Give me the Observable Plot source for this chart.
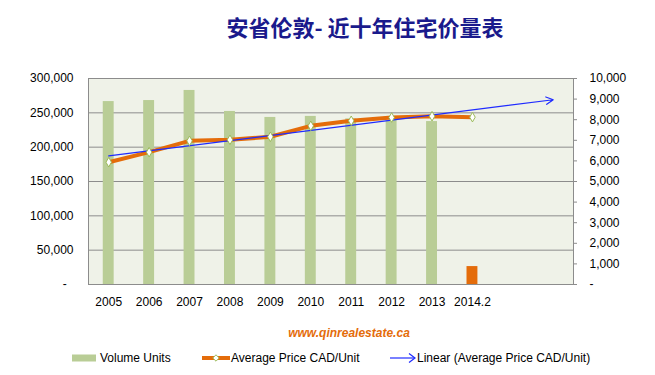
<!DOCTYPE html>
<html>
<head>
<meta charset="utf-8">
<script src="https://cdn.jsdelivr.net/npm/d3@7"></script>
<script src="https://cdn.jsdelivr.net/npm/@observablehq/plot@0.6"></script>
<style>
  html, body { margin: 0; padding: 0; background: #fff; }
  #wrap { position: relative; width: 655px; height: 375px; overflow: hidden; font-family: "Liberation Sans", Arial, sans-serif; }
  #chart { position: absolute; left: 0; top: 0; }
  .title { position: absolute; top: 11px; left: 365px; transform: translateX(-50%); white-space: nowrap;
           font-family: "Noto Sans CJK SC", sans-serif; font-weight: bold; font-size: 22px; color: #1a1a8c; line-height: 30px; }
  .site { position: absolute; top: 325px; left: 349px; transform: translateX(-50%); white-space: nowrap;
          font-family: "Liberation Sans", Arial, sans-serif; font-weight: bold; font-style: italic; font-size: 12px; color: #e46c0a; line-height: 16px; }
  .leg { position: absolute; top: 350px; height: 16px; display: flex; align-items: center; white-space: nowrap;
         font-size: 12px; color: #000; }
  .leg svg { display: block; }
</style>
</head>
<body>
<div id="wrap">
  <div id="chart"></div>
  <div class="title">安省伦敦- 近十年住宅价量表</div>
  <div class="site">www.qinrealestate.ca</div>
  <div class="leg" style="left:72px;"><svg width="25" height="8" style="margin-right:3px"><rect x="0" y="0.5" width="24" height="7" fill="#b9cd96"/></svg>Volume Units</div>
  <div class="leg" style="left:202px;"><svg width="29" height="10" style="margin-right:0"><line x1="0" y1="5" x2="28" y2="5" stroke="#e46c0a" stroke-width="4"/><path d="M14,1.8L17.2,5L14,8.2L10.8,5Z" fill="#fff" stroke="#9bbb59" stroke-width="1"/></svg>Average Price CAD/Unit</div>
  <div class="leg" style="left:390px;"><svg width="26" height="12" style="margin-right:1px"><line x1="0" y1="6" x2="25" y2="6" stroke="#1f2bff" stroke-width="1.2"/><path d="M19,1.5L25,6L19,10.5" fill="none" stroke="#1f2bff" stroke-width="1.2"/></svg>Linear (Average Price CAD/Unit)</div>
</div>
<script>
// ---- data ----
const years = ["2005", "2006", "2007", "2008", "2009", "2010", "2011", "2012", "2013", "2014.2"];
const volumeUnits = [8880, 8930, 9420, 8400, 8110, 8160, 8040, 7960, 7910, 870];
const avgPrice = [178100, 192700, 209200, 210700, 215100, 231100, 238400, 243200, 245100, 243700];
const leftTicks = [0, 50000, 100000, 150000, 200000, 250000, 300000];
const rightTicks = [0, 1000, 2000, 3000, 4000, 5000, 6000, 7000, 8000, 9000, 10000];
const forecastPeriods = 2;

// ---- derived ----
const leftMax = leftTicks[leftTicks.length - 1];
const rightMax = rightTicks[rightTicks.length - 1];
const ratio = leftMax / rightMax; // right-axis value -> left-axis scale
const n = years.length;
const slots = n + forecastPeriods;

const rows = years.map((year, i) => ({i, year, volume: volumeUnits[i], price: avgPrice[i]}));

// least squares linear trend on price
const mx = d3.mean(rows, d => d.i);
const my = d3.mean(rows, d => d.price);
const slope = d3.sum(rows, d => (d.i - mx) * (d.price - my)) / d3.sum(rows, d => (d.i - mx) ** 2);
const intercept = my - slope * mx;
const trend = [{x1: 0, y1: intercept, x2: slots - 1, y2: intercept + slope * (slots - 1)}];

const fmt = d3.format(",");
const green = "#b9cd96", orange = "#e46c0a", blue = "#1f2bff", gridColor = "#8c8c8c";
const halfBar = 0.135;

const chart = Plot.plot({
  width: 655,
  height: 375,
  marginLeft: 88,
  marginRight: 82,
  marginTop: 78,
  marginBottom: 91,
  style: {fontFamily: "Liberation Sans, Arial, sans-serif", fontSize: "12px", color: "#000", background: "transparent"},
  x: {domain: [-0.5, slots - 0.5], axis: null},
  y: {domain: [0, leftMax], axis: null},
  marks: [
    Plot.frame({fill: "#eff2e8", stroke: "none"}),
    Plot.ruleY(leftTicks, {stroke: gridColor, strokeWidth: 1}),
    Plot.frame({stroke: gridColor, strokeWidth: 1}),
    Plot.rectY(rows, {
      x1: d => d.i - halfBar,
      x2: d => d.i + halfBar,
      y1: 0,
      y2: d => d.volume * ratio,
      fill: d => d.i === n - 1 ? orange : green
    }),
    Plot.line(rows, {x: "i", y: "price", stroke: orange, strokeWidth: 4, strokeLinejoin: "round"}),
    Plot.arrow(trend, {x1: "x1", y1: "y1", x2: "x2", y2: "y2", stroke: blue, strokeWidth: 1.2, headLength: 10, headAngle: 55}),
    Plot.dot(rows, {x: "i", y: "price", symbol: "diamond", r: 2.9, fill: "#fff", stroke: "#9bbb59", strokeWidth: 1}),
    Plot.axisX(rows.map(d => d.i), {tickFormat: i => years[i], tickSize: 0, tickPadding: 13, fill: "#000", fontSize: 12}),
    Plot.axisY(leftTicks, {anchor: "left", tickSize: 0, tickPadding: 15, label: null, fill: "#000", fontSize: 12,
      tickFormat: v => v === 0 ? "-\u00a0\u00a0" : fmt(v)}),
    Plot.axisY(rightTicks.map(v => v * ratio), {anchor: "right", tickSize: 3, tickPadding: 13, label: null, stroke: gridColor, fill: "#000", fontSize: 12,
      tickFormat: v => v === 0 ? "-" : fmt(Math.round(v / ratio))})
  ]
});
document.getElementById("chart").appendChild(chart);
</script>
</body>
</html>
